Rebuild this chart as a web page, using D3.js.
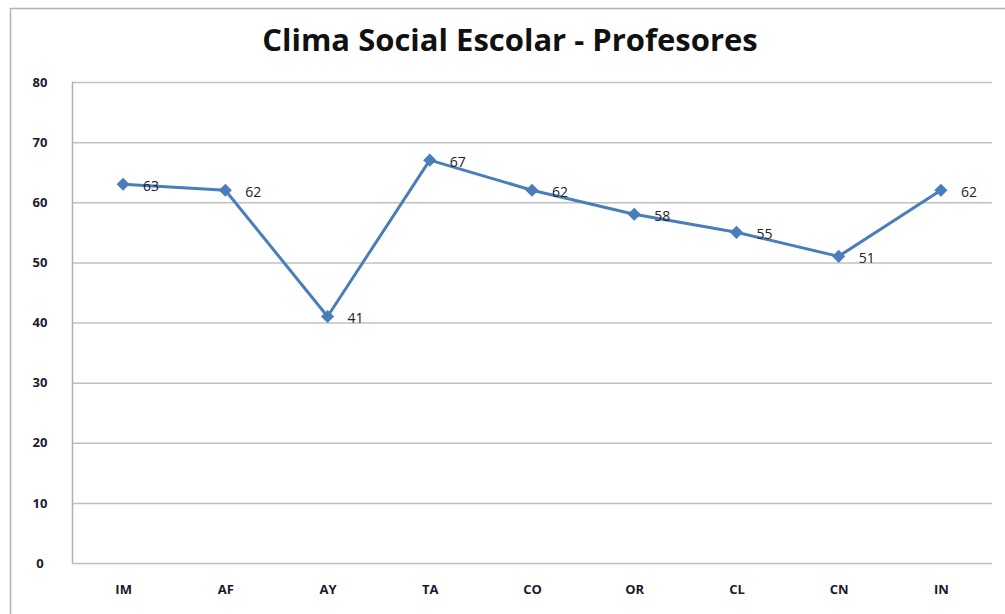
<!DOCTYPE html>
<html>
<head>
<meta charset="utf-8">
<script src="https://cdn.jsdelivr.net/npm/d3@7"></script>
<style>
  body { margin: 0; background: #fff; }
  text { font-family: "Open Sans", "Liberation Sans", sans-serif; }
</style>
</head>
<body>
<div id="chart"></div>
<script>
var categories = ["IM", "AF", "AY", "TA", "CO", "OR", "CL", "CN", "IN"];
var values = [63, 62, 41, 67, 62, 58, 55, 51, 62];
var yTicks = [0, 10, 20, 30, 40, 50, 60, 70, 80];
var title = "Clima Social Escolar - Profesores";

var width = 1005, height = 614;
var margin = {top: 82, right: 13, bottom: 51, left: 72};
var w = width - margin.left - margin.right,
    h = height - margin.top - margin.bottom;

var svg = d3.select("#chart").append("svg")
    .attr("width", width)
    .attr("height", height);

// outer chart border
svg.append("path")
    .attr("d", "M10.5," + height + "V8.5H" + width)
    .attr("fill", "none")
    .attr("stroke", "#b3b3b3")
    .attr("stroke-width", 1.5);

svg.append("text")
    .attr("x", 510)
    .attr("y", 51)
    .attr("text-anchor", "middle")
    .style("font-size", "31px")
    .style("font-weight", "bold")
    .attr("fill", "#111")
    .text(title);

var g = svg.append("g")
    .attr("transform", "translate(" + margin.left + "," + margin.top + ")");

var x = d3.scalePoint().domain(categories).range([0, w]).padding(0.5);
var y = d3.scaleLinear().domain([0, 80]).range([h, 0]);

// grid
g.append("g")
    .selectAll("line")
    .data(yTicks)
    .enter().append("line")
    .attr("x1", 0)
    .attr("x2", w)
    .attr("y1", function(d) { return y(d) + 0.5; })
    .attr("y2", function(d) { return y(d) + 0.5; })
    .attr("stroke", "#c0c0c0")
    .attr("stroke-width", 1.5);

// left axis line
g.append("line")
    .attr("x1", 0.5).attr("x2", 0.5)
    .attr("y1", 0).attr("y2", h + 0.5)
    .attr("stroke", "#b0b0b0")
    .attr("stroke-width", 1.5);

var yAxis = d3.axisLeft(y).tickValues(yTicks).tickSize(0).tickPadding(24);
g.append("g")
    .call(yAxis)
    .call(function(s) { s.select(".domain").remove(); })
    .selectAll("text")
    .style("font-size", "13px")
    .style("font-weight", "bold")
    .attr("fill", "#1a1a2e")
    .attr("text-anchor", "middle")
    .attr("x", -32);

var xAxis = d3.axisBottom(x).tickSize(0).tickPadding(22);
g.append("g")
    .attr("transform", "translate(0," + h + ")")
    .call(xAxis)
    .call(function(s) { s.select(".domain").remove(); })
    .selectAll("text")
    .style("font-size", "13px")
    .style("font-weight", "bold")
    .attr("fill", "#1a1a2e");

var line = d3.line()
    .x(function(d, i) { return x(categories[i]); })
    .y(function(d) { return y(d); });

g.append("path")
    .datum(values)
    .attr("fill", "none")
    .attr("stroke", "#4a7ebb")
    .attr("stroke-width", 3)
    .attr("stroke-linejoin", "round")
    .attr("d", line);

g.selectAll(".marker")
    .data(values)
    .enter().append("path")
    .attr("class", "marker")
    .attr("transform", function(d, i) { return "translate(" + x(categories[i]) + "," + y(d) + ")"; })
    .attr("d", d3.symbol().type(d3.symbolDiamond2).size(110))
    .attr("fill", "#4a7ebb");

g.selectAll(".lbl")
    .data(values)
    .enter().append("text")
    .attr("class", "lbl")
    .attr("x", function(d, i) { return x(categories[i]) + 20; })
    .attr("y", function(d) { return y(d) + 7; })
    .style("font-size", "14px")
    .attr("fill", "#222")
    .text(function(d) { return d; });
</script>
</body>
</html>
